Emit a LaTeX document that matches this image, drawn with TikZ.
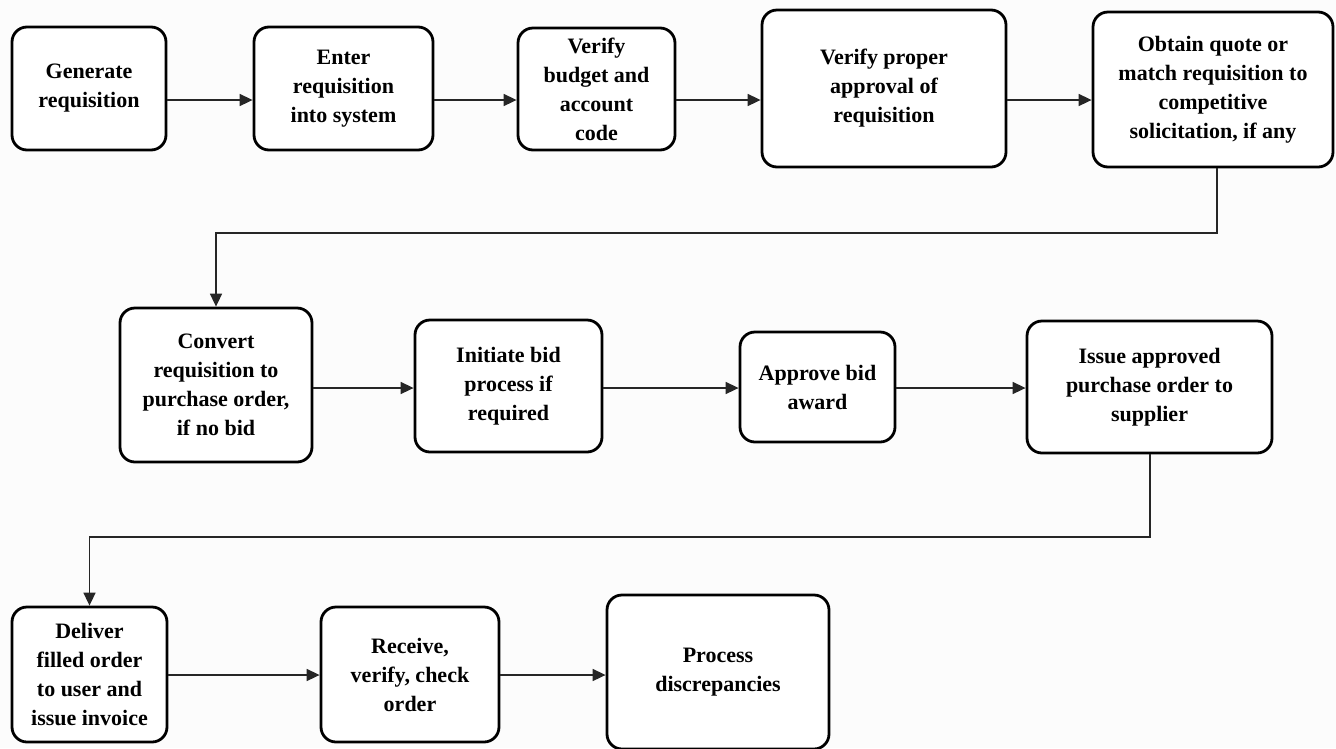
\documentclass[tikz,border=0pt]{standalone}
\usepackage{fontspec}
\setmainfont{Liberation Serif}
\usetikzlibrary{arrows.meta}
\begin{document}
\begin{tikzpicture}[x=1pt,y=-1pt,
  box/.style={draw=black, line width=2.8pt, rounded corners=15pt, align=center,
    font=\bfseries\fontsize{22}{29}\selectfont, inner sep=0pt},
  conn/.style={draw=black!85, line width=1.6pt},
  arr/.style={conn, -{Triangle[length=13pt,width=12pt]}}]
\useasboundingbox (0,0) rectangle (1336,748);
\fill[black!1] (0,0) rectangle (1336,748);
% row 1
\node[box, fill=white, minimum width=154pt, minimum height=123pt] (A) at (89,88.5) {Generate\\requisition};
\node[box, fill=white, minimum width=179pt, minimum height=123pt] (B) at (343.5,88.5) {Enter\\requisition\\into system};
\node[box, fill=white, minimum width=157pt, minimum height=122pt] (C) at (596.5,89) {Verify\\budget and\\account\\code};
\node[box, fill=white, minimum width=244pt, minimum height=157pt] (D) at (884,88.5) {Verify proper\\approval of\\requisition};
\node[box, fill=white, minimum width=240pt, minimum height=155pt] (E) at (1213,89.5) {Obtain quote or\\match requisition to\\competitive\\solicitation, if any};
% row 2
\node[box, fill=white, minimum width=192pt, minimum height=154pt] (F) at (216,385) {Convert\\requisition to\\purchase order,\\if no bid};
\node[box, fill=white, minimum width=187pt, minimum height=132pt] (G) at (508.5,386) {Initiate bid\\process if\\required};
\node[box, fill=white, minimum width=155pt, minimum height=110pt] (H) at (817.5,387) {Approve bid\\award};
\node[box, fill=white, minimum width=245pt, minimum height=132pt] (I) at (1149.5,387) {Issue approved\\purchase order to\\supplier};
% row 3
\node[box, fill=white, minimum width=155pt, minimum height=135pt] (J) at (89.5,674.5) {Deliver\\filled order\\to user and\\issue invoice};
\node[box, fill=white, minimum width=178pt, minimum height=135pt] (K) at (410,674.5) {Receive,\\verify, check\\order};
\node[box, fill=white, minimum width=222pt, minimum height=154pt] (L) at (718,672) {Process\\discrepancies};
% arrow rows
\coordinate (r1) at (0,100);
\coordinate (r2) at (0,388);
\coordinate (r3) at (0,675);
\draw[arr] (A.east |- r1) -- (B.west |- r1);
\draw[arr] (B.east |- r1) -- (C.west |- r1);
\draw[arr] (C.east |- r1) -- (D.west |- r1);
\draw[arr] (D.east |- r1) -- (E.west |- r1);
\draw[arr] (F.east |- r2) -- (G.west |- r2);
\draw[arr] (G.east |- r2) -- (H.west |- r2);
\draw[arr] (H.east |- r2) -- (I.west |- r2);
\draw[arr] (J.east |- r3) -- (K.west |- r3);
\draw[arr] (K.east |- r3) -- (L.west |- r3);
% wrap connectors
\coordinate (c1) at (1217,233);
\coordinate (c2) at (1150,537);
\draw[arr] (E.south -| c1) -- (c1) -| (F.north);
\draw[arr] (I.south -| c2) -- (c2) -| (J.north);
\end{tikzpicture}
\end{document}
